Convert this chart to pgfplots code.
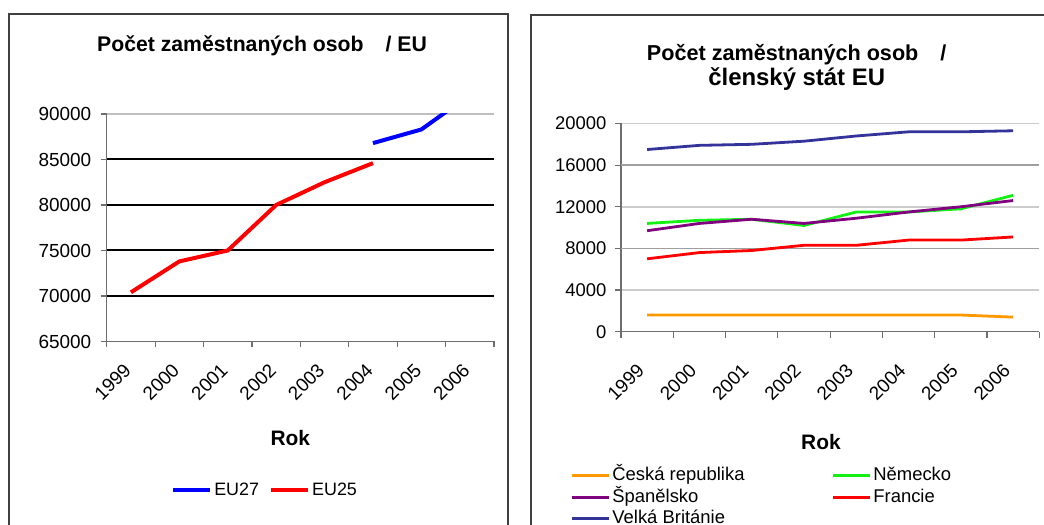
\documentclass[border=0pt]{standalone}
\usepackage{fontspec}
\setmainfont{Liberation Sans}
\usepackage{pgfplots}
\pgfplotsset{compat=1.18}

\definecolor{eublue}{RGB}{0,0,255}
\definecolor{eured}{RGB}{255,0,0}
\definecolor{czorange}{RGB}{255,153,0}
\definecolor{degreen}{RGB}{20,240,20}
\definecolor{espurple}{RGB}{128,0,128}
\definecolor{ukblue}{RGB}{51,51,153}
\definecolor{axgray}{RGB}{110,110,110}

\pgfplotsset{
  common/.style={
    scale only axis,
    xmin=0, xmax=8,
    axis x line*=bottom, axis y line*=left,
    axis line style={axgray, line width=1.2bp, -},
    tick align=outside,
    xtick={0.5,1.5,2.5,3.5,4.5,5.5,6.5,7.5},
    xticklabels={1999,2000,2001,2002,2003,2004,2005,2006},
    major x tick style={draw=none},
    minor xtick={0,1,2,3,4,5,6,7,8},
    minor tick length=6bp,
    major tick length=6bp,
    minor x tick style={axgray, line width=1.2bp},
    y tick style={axgray, line width=1.2bp},
    scaled y ticks=false,
    /pgf/number format/fixed,
    /pgf/number format/1000 sep={},
    /pgf/number format/assume math mode=true,
    ymajorgrids,
    legend cell align=left,
  }
}

\begin{document}
\begin{tikzpicture}[x=1bp,y=1bp]
\path[use as bounding box] (0,0) rectangle (1044,525);
\clip (0,0) rectangle (1044,525);
\draw[black!75, line width=1.2bp] (9,-10) -- (9,511) -- (508,511) -- (508,-10);
\draw[black!75, line width=1.2bp] (531,-10) -- (531,510) -- (1060,510);

% ---------------- left chart ----------------
\begin{axis}[common,
  at={(106.7bp,183.5bp)}, anchor=south west,
  width=387.3bp, height=227.5bp,
  ymin=65000, ymax=90000,
  ytick={65000,70000,75000,80000,85000,90000},
  yticklabel style={font=\fontsize{19}{21}\selectfont, xshift=-6bp},
  xticklabel style={font=\fontsize{19}{21}\selectfont, xshift=-1bp, yshift=-17bp, rotate=45, anchor=east},
  major y grid style={gray!50, line width=1.2bp},
  extra y ticks={70000,75000,80000,85000},
  extra y tick labels={},
  extra y tick style={grid=major, major y grid style={black, line width=2bp}, y tick style={draw=none}},
  title={\fontsize{21.3}{24}\selectfont\bfseries Počet zaměstnaných osob\hspace{16bp} / EU},
  title style={at={(rel axis cs:0.401,1)}, anchor=base, yshift=57bp},
  xlabel={\fontsize{21}{24}\selectfont\bfseries Rok},
  xlabel style={at={(rel axis cs:0.474,0)}, anchor=base, yshift=-104bp},
  legend columns=2,
  legend style={at={(0.409,-0.653)}, anchor=center, draw=none, fill=none,
    font=\fontsize{18}{21}\selectfont,
    /tikz/every even column/.append style={column sep=8bp}},
  legend image code/.code={\draw[#1] (0bp,0bp) -- (37bp,0bp);},
]
\addplot[eublue, line width=4bp] coordinates {(5.5,86800) (6.5,88300) (7.5,92100)};
\addlegendentry{EU27}
\addplot[eured, line width=4bp] coordinates {(0.5,70400) (1.5,73800) (2.5,75000) (3.5,80000) (4.5,82500) (5.5,84600)};
\addlegendentry{EU25}
\end{axis}

% ---------------- right chart ----------------
\begin{axis}[common,
  at={(621bp,193.3bp)}, anchor=south west,
  width=418.3bp, height=208.2bp,
  ymin=0, ymax=20000,
  ytick={0,4000,8000,12000,16000,20000},
  yticklabel style={font=\fontsize{18.5}{21}\selectfont, xshift=-5bp},
  xticklabel style={font=\fontsize{19}{21}\selectfont, xshift=-4bp, yshift=-27bp, rotate=45, anchor=east},
  major y grid style={gray!40, line width=1.5bp},
  extra y ticks={8000,16000},
  extra y tick labels={},
  extra y tick style={grid=major, major y grid style={gray!75, line width=1.5bp}, y tick style={draw=none}},
  title={\fontsize{21.7}{24}\selectfont\bfseries Počet zaměstnaných osob\hspace{16bp} /\\[2bp]\fontsize{24}{26}\selectfont\bfseries členský stát EU},
  title style={at={(rel axis cs:0.42,1)}, anchor=north, align=center, yshift=77bp, font=\bfseries},
  xlabel={\fontsize{21}{24}\selectfont\bfseries Rok},
  xlabel style={at={(rel axis cs:0.478,0)}, anchor=base, yshift=-118bp},
  legend columns=2,
  legend style={at={(-0.121,-0.64)}, anchor=north west, draw=none, fill=none,
    inner sep=0pt, row sep=0bp,
    font=\fontsize{18.5}{21}\selectfont,
    nodes={text height=13.5bp, text depth=4bp, inner sep=2bp},
    /tikz/every even column/.append style={column sep=85bp}},
  legend image code/.code={\draw[#1] (0bp,0bp) -- (37bp,0bp);},
]
\addplot[czorange, line width=2.8bp] coordinates {(0.5,1600) (1.5,1600) (2.5,1600) (3.5,1600) (4.5,1600) (5.5,1600) (6.5,1600) (7.5,1400)};
\addlegendentry{Česká republika}
\addplot[degreen, line width=2.8bp] coordinates {(0.5,10400) (1.5,10700) (2.5,10800) (3.5,10200) (4.5,11500) (5.5,11500) (6.5,11800) (7.5,13100)};
\addlegendentry{Německo}
\addplot[espurple, line width=2.8bp] coordinates {(0.5,9700) (1.5,10400) (2.5,10800) (3.5,10400) (4.5,10900) (5.5,11500) (6.5,12000) (7.5,12600)};
\addlegendentry{Španělsko}
\addplot[eured, line width=2.8bp] coordinates {(0.5,7000) (1.5,7600) (2.5,7800) (3.5,8300) (4.5,8300) (5.5,8800) (6.5,8800) (7.5,9100)};
\addlegendentry{Francie}
\addplot[ukblue, line width=2.8bp] coordinates {(0.5,17500) (1.5,17900) (2.5,18000) (3.5,18300) (4.5,18800) (5.5,19200) (6.5,19200) (7.5,19300)};
\addlegendentry{Velká Británie}
\end{axis}
\end{tikzpicture}
\end{document}
